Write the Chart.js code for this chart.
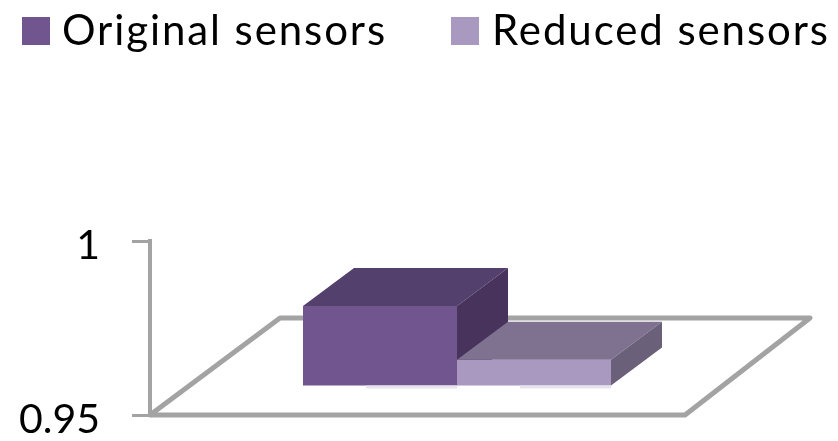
<!DOCTYPE html>
<html>
<head>
<meta charset="utf-8">
<style>html,body{margin:0;padding:0;background:#fff}#wrap{width:838px;height:441px}</style>
<script src="https://cdn.jsdelivr.net/npm/chart.js@4"></script>
</head>
<body>
<div id="wrap"><canvas id="c" width="838" height="441"></canvas></div>
<script>
const categories = ['Sensors'];
const originalSensors = [0.9733];
const reducedSensors = [0.9578];
const seriesNames = ['Original sensors', 'Reduced sensors'];
const axisMin = 0.95;
const axisMax = 1;
const axisStep = 0.05;

const FONT = 'Lato, Carlito, "Open Sans", sans-serif';
const AXIS_GREY = '#a3a3a3';

// Face colours for each series: front, top, side
const palette = [
  { front: '#70558f', top: '#54406c', side: '#47335c' },
  { front: '#a998bf', top: '#7f7290', side: '#6b6079' }
];

// The bars stand partway into the floor; their faces recede by DEPTH
const BAR_SHIFT = { x: 39.5, y: -28 };
const BAR_DEPTH = { x: 51, y: -38 };
const FLOOR_DEPTH = { x: 130, y: -97 };

function poly(ctx, pts, fill) {
  ctx.beginPath();
  pts.forEach((p, i) => i ? ctx.lineTo(p[0], p[1]) : ctx.moveTo(p[0], p[1]));
  ctx.closePath();
  ctx.fillStyle = fill;
  ctx.fill();
}

// Parallelogram floor under the bars
const floorPlugin = {
  id: 'floor',
  beforeDatasetsDraw(chart) {
    const { left, right, bottom } = chart.chartArea;
    const { ctx } = chart;
    const d = FLOOR_DEPTH;
    ctx.save();
    ctx.strokeStyle = AXIS_GREY;
    ctx.lineWidth = 5;
    ctx.lineJoin = 'round';
    ctx.beginPath();
    ctx.moveTo(left, bottom);
    ctx.lineTo(left + d.x, bottom + d.y);
    ctx.lineTo(right + d.x - 5, bottom + d.y);
    ctx.lineTo(right, bottom);
    ctx.closePath();
    ctx.stroke();
    ctx.restore();
  }
};

// Bars are painted left to right so the shorter one overlaps the taller one's side
const extrudePlugin = {
  id: 'extrude',
  beforeDatasetDraw() {
    return false;
  },
  afterDatasetsDraw(chart) {
    const { ctx } = chart;
    const d = BAR_DEPTH;
    chart.data.datasets.forEach((ds, i) => {
      const meta = chart.getDatasetMeta(i);
      const colors = palette[i];
      ctx.save();
      ctx.translate(BAR_SHIFT.x, BAR_SHIFT.y);
      meta.controller.draw();
      meta.data.forEach(bar => {
        const l = bar.x - bar.width / 2;
        const r = bar.x + bar.width / 2;
        const t = bar.y;
        const b = bar.base;
        poly(ctx, [[l, t], [l + d.x, t + d.y], [r + d.x, t + d.y], [r, t]], colors.top);
        poly(ctx, [[r, t], [r + d.x, t + d.y], [r + d.x, b + d.y], [r, b]], colors.side);
        // Faint light edge along the foot of the bar
        ctx.fillStyle = '#e8e2ef';
        ctx.fillRect(l + bar.width * 0.41, b, bar.width * 0.59, 3);
      });
      ctx.restore();
    });
  }
};

// Legend row across the top of the canvas
const legendPlugin = {
  id: 'topLegend',
  afterDraw(chart) {
    const { ctx } = chart;
    const boxX = [22, 451];
    const textX = [62, 492];
    ctx.save();
    ctx.font = '42px ' + FONT;
    ctx.letterSpacing = '1.9px';
    ctx.textBaseline = 'middle';
    ctx.textAlign = 'left';
    chart.data.datasets.forEach((ds, i) => {
      ctx.fillStyle = palette[i].front;
      ctx.fillRect(boxX[i], 17, 28, 28);
      ctx.fillStyle = '#000';
      ctx.fillText(ds.label, textX[i], 31);
    });
    ctx.restore();
  }
};

new Chart(document.getElementById('c'), {
  type: 'bar',
  data: {
    labels: categories,
    datasets: [
      { label: seriesNames[0], data: originalSensors, base: axisMin, backgroundColor: palette[0].front },
      { label: seriesNames[1], data: reducedSensors, base: axisMin, backgroundColor: palette[1].front }
    ]
  },
  options: {
    responsive: false,
    animation: false,
    events: [],
    layout: { padding: { left: 0, right: 153, top: 241, bottom: 26 } },
    datasets: { bar: { categoryPercentage: 0.5757, barPercentage: 1, clip: false } },
    plugins: { legend: { display: false }, tooltip: { enabled: false } },
    scales: {
      x: { display: false },
      y: {
        min: axisMin,
        max: axisMax,
        afterFit(scale) {
          scale.width = 150;
          scale.paddingTop = 0;
          scale.paddingBottom = 0;
        },
        border: { color: AXIS_GREY, width: 4 },
        grid: { drawOnChartArea: false, color: AXIS_GREY, lineWidth: 3, tickLength: 18 },
        ticks: {
          stepSize: axisStep,
          padding: 32,
          labelOffset: 5,
          color: '#000',
          font: { family: FONT, size: 41 },
          callback: v => String(Math.round(v * 100) / 100)
        }
      }
    }
  },
  plugins: [floorPlugin, extrudePlugin, legendPlugin]
});
</script>
</body>
</html>
